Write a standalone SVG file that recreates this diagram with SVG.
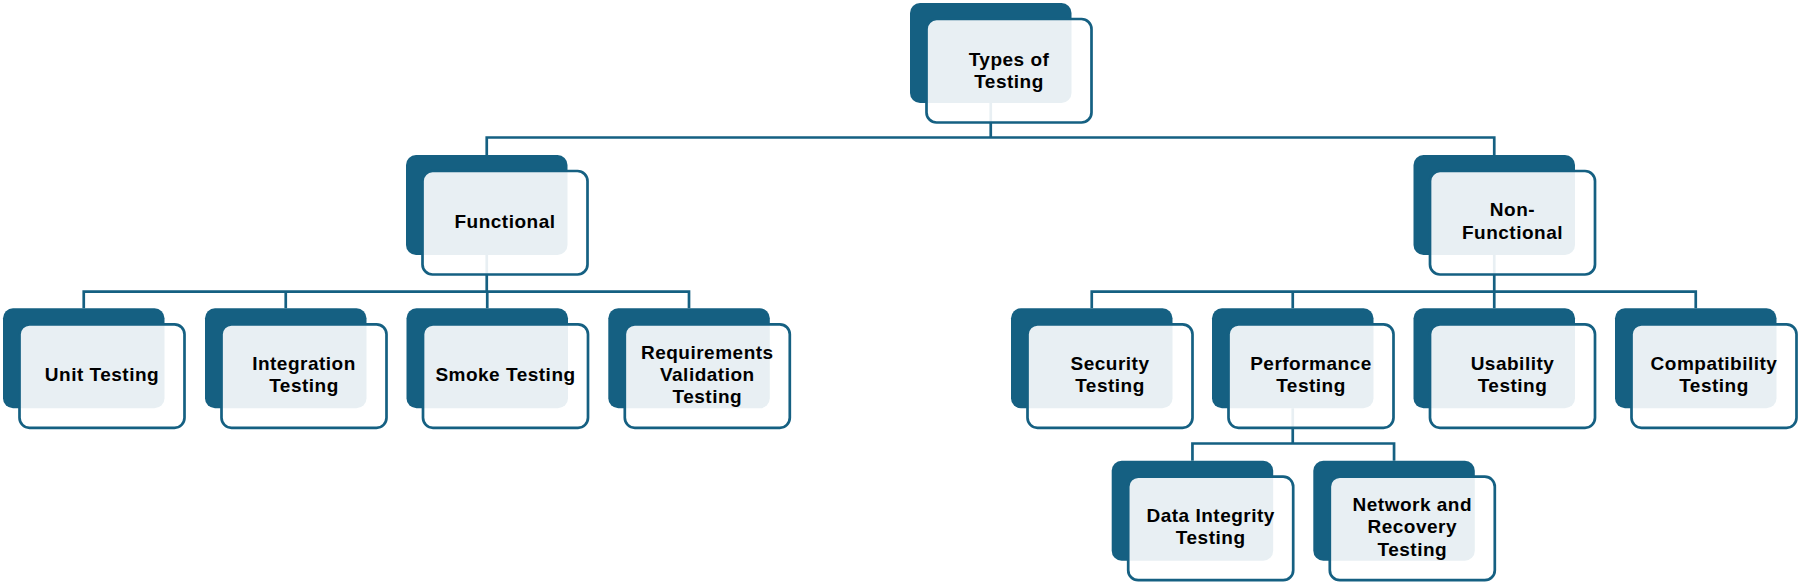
<svg xmlns="http://www.w3.org/2000/svg" width="1798" height="582" viewBox="0 0 1798 582">
<style>
.bg{fill:#156082}
.fr{fill:#ffffff;fill-opacity:0.9;stroke:#156082;stroke-width:2.7}
.c{fill:none;stroke:#156082;stroke-width:2.7}
.t{font-family:"Liberation Sans",Arial,sans-serif;font-weight:bold;font-size:19px;letter-spacing:0.5px;fill:#000;text-anchor:middle}
</style>
<rect width="1798" height="582" fill="#fff"/>
<g id="connectors">
<path class="c" d="M990.75,103 V137.5 M486.75,155 V137.5 H1494.25 V155"/>
<path class="c" d="M486.75,255 V291.7 M83.75,308.3 V291.7 H689 V308.3 M285.75,291.7 V308.3 M487.25,291.7 V308.3"/>
<path class="c" d="M1494.25,255 V291.7 M1091.75,308.3 V291.7 H1695.75 V308.3 M1292.75,291.7 V308.3 M1494.25,291.7 V308.3"/>
<path class="c" d="M1292.75,408.3 V443.5 M1192.45,460.7 V443.5 H1394.05 V460.7"/>
</g>
<g id="root">
<rect class="bg" x="910" y="3" width="161.5" height="100" rx="10"/>
<rect class="fr" x="926.5" y="19" width="165" height="103.5" rx="10"/>
<text class="t" x="1009" y="65.8">Types of</text>
<text class="t" x="1009" y="88.1">Testing</text>
</g>
<g id="functional">
<rect class="bg" x="406" y="155" width="161.5" height="100" rx="10"/>
<rect class="fr" x="422.5" y="171" width="165" height="103.5" rx="10"/>
<text class="t" x="505" y="227.5">Functional</text>
</g>
<g id="non-functional">
<rect class="bg" x="1413.5" y="155" width="161.5" height="100" rx="10"/>
<rect class="fr" x="1430" y="171" width="165" height="103.5" rx="10"/>
<text class="t" x="1512.5" y="216.4">Non-</text>
<text class="t" x="1512.5" y="238.7">Functional</text>
</g>
<g id="unit-testing">
<rect class="bg" x="3" y="308.3" width="161.5" height="100" rx="10"/>
<rect class="fr" x="19.5" y="324.3" width="165" height="103.5" rx="10"/>
<text class="t" x="102" y="380.8">Unit Testing</text>
</g>
<g id="integration-testing">
<rect class="bg" x="205" y="308.3" width="161.5" height="100" rx="10"/>
<rect class="fr" x="221.5" y="324.3" width="165" height="103.5" rx="10"/>
<text class="t" x="304" y="369.6">Integration</text>
<text class="t" x="304" y="391.9">Testing</text>
</g>
<g id="smoke-testing">
<rect class="bg" x="406.5" y="308.3" width="161.5" height="100" rx="10"/>
<rect class="fr" x="423" y="324.3" width="165" height="103.5" rx="10"/>
<text class="t" x="505.5" y="380.8">Smoke Testing</text>
</g>
<g id="requirements-validation-testing">
<rect class="bg" x="608.3" y="308.3" width="161.5" height="100" rx="10"/>
<rect class="fr" x="624.8" y="324.3" width="165" height="103.5" rx="10"/>
<text class="t" x="707.3" y="358.5">Requirements</text>
<text class="t" x="707.3" y="380.8">Validation</text>
<text class="t" x="707.3" y="403.1">Testing</text>
</g>
<g id="security-testing">
<rect class="bg" x="1011" y="308.3" width="161.5" height="100" rx="10"/>
<rect class="fr" x="1027.5" y="324.3" width="165" height="103.5" rx="10"/>
<text class="t" x="1110" y="369.6">Security</text>
<text class="t" x="1110" y="391.9">Testing</text>
</g>
<g id="performance-testing">
<rect class="bg" x="1212" y="308.3" width="161.5" height="100" rx="10"/>
<rect class="fr" x="1228.5" y="324.3" width="165" height="103.5" rx="10"/>
<text class="t" x="1311" y="369.6">Performance</text>
<text class="t" x="1311" y="391.9">Testing</text>
</g>
<g id="usability-testing">
<rect class="bg" x="1413.5" y="308.3" width="161.5" height="100" rx="10"/>
<rect class="fr" x="1430" y="324.3" width="165" height="103.5" rx="10"/>
<text class="t" x="1512.5" y="369.6">Usability</text>
<text class="t" x="1512.5" y="391.9">Testing</text>
</g>
<g id="compatibility-testing">
<rect class="bg" x="1615" y="308.3" width="161.5" height="100" rx="10"/>
<rect class="fr" x="1631.5" y="324.3" width="165" height="103.5" rx="10"/>
<text class="t" x="1714" y="369.6">Compatibility</text>
<text class="t" x="1714" y="391.9">Testing</text>
</g>
<g id="data-integrity-testing">
<rect class="bg" x="1111.7" y="460.7" width="161.5" height="100" rx="10"/>
<rect class="fr" x="1128.2" y="476.7" width="165" height="103.5" rx="10"/>
<text class="t" x="1210.7" y="522">Data Integrity</text>
<text class="t" x="1210.7" y="544.3">Testing</text>
</g>
<g id="network-and-recovery-testing">
<rect class="bg" x="1313.3" y="460.7" width="161.5" height="100" rx="10"/>
<rect class="fr" x="1329.8" y="476.7" width="165" height="103.5" rx="10"/>
<text class="t" x="1412.3" y="510.9">Network and</text>
<text class="t" x="1412.3" y="533.2">Recovery</text>
<text class="t" x="1412.3" y="555.5">Testing</text>
</g>
</svg>
